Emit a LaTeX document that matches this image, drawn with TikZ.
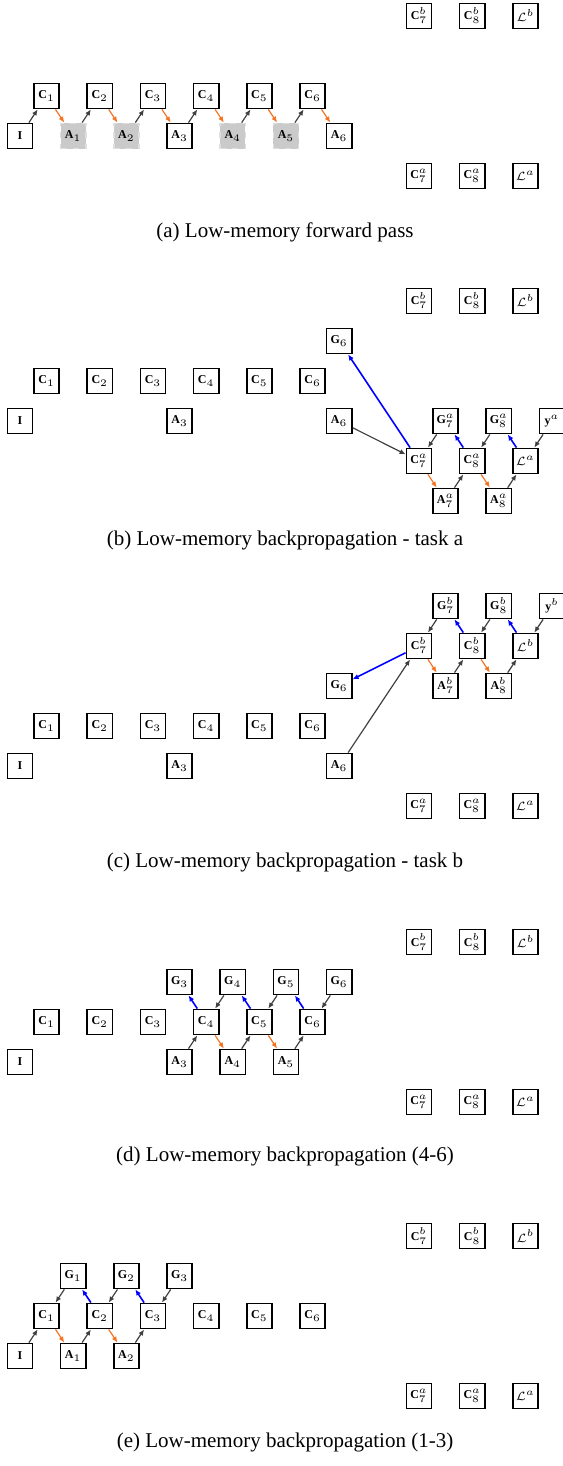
\documentclass[tikz,border=0pt]{standalone}
\usepackage{fontspec}
\setmainfont{Liberation Serif}
\usepackage{amssymb}
\usetikzlibrary{arrows.meta}
\tikzset{>={Latex[width=2.6pt,length=3pt]}}
\definecolor{fwgray}{HTML}{404040}
\definecolor{actorange}{HTML}{F47424}
\definecolor{gradblue}{HTML}{0000FF}
\definecolor{ghostgray}{HTML}{CACACA}
\tikzset{
  blk/.style={draw, line width=0.8pt, fill=white, minimum size=12.6pt,
    inner sep=0pt, font=\fontsize{6}{7}\selectfont},
  ghost/.style={blk, draw=ghostgray!60, dashed, fill=ghostgray},
  fw/.style={->, line width=0.6pt, draw=fwgray},
  act/.style={->, line width=0.6pt, draw=actorange},
  grad/.style={->, line width=0.8pt, draw=gradblue},
  subcap/.style={font=\fontsize{10.5}{12}\selectfont}
}
% nodes shared by every panel
\newcommand\backbone[1]{%
  \node[blk] (#1-I) at (0*\X,-1*\Y) {$\mathbf{I}$};
  \foreach \k in {1,...,6}
    \node[blk] (#1-C\k) at ({(2*\k-1)*\X},0*\Y) {$\mathbf{C}_{\k}$};
  \node[blk] (#1-C7b) at (15*\X,2*\Y) {$\mathbf{C}^b_7$};
  \node[blk] (#1-C8b) at (17*\X,2*\Y) {$\mathbf{C}^b_8$};
  \node[blk] (#1-Lb) at (19*\X,2*\Y) {$\mathcal{L}^b$};
  \node[blk] (#1-C7a) at (15*\X,-2*\Y) {$\mathbf{C}^a_7$};
  \node[blk] (#1-C8a) at (17*\X,-2*\Y) {$\mathbf{C}^a_8$};
  \node[blk] (#1-La) at (19*\X,-2*\Y) {$\mathcal{L}^a$};
}
\begin{document}
\begin{tikzpicture}

  \newcommand\X{13.3pt}
  \newcommand\Y{20pt}

  \useasboundingbox (0,0) rectangle (281pt,-733pt);

  %% (a) forward pass
  \begin{scope}[shift={(10pt,-48pt)}]
    \backbone{a}
    \foreach \k in {1,2,4,5}
      \node[ghost] (a-A\k) at ({2*\k*\X},-1*\Y) {$\mathbf{A}_{\k}$};
    \foreach \k in {3,6}
      \node[blk] (a-A\k) at ({2*\k*\X},-1*\Y) {$\mathbf{A}_{\k}$};
    \draw[fw] (a-I) -- (a-C1);
    \foreach \k [count=\j from 2] in {1,...,5}
      \draw[fw] (a-A\k) -- (a-C\j);
    \foreach \k in {1,...,6}
      \draw[act] (a-C\k) -- (a-A\k);
  \end{scope}
  \node[subcap] (a-cap) at (142.5pt,-116pt) {(a) Low-memory forward pass};

  %% (b) task a
  \begin{scope}[shift={(10pt,-190.5pt)}]
    \backbone{b}
    \node[blk] (b-A3) at (6*\X,-1*\Y) {$\mathbf{A}_3$};
    \node[blk] (b-A6) at (12*\X,-1*\Y) {$\mathbf{A}_6$};
    \node[blk] (b-G6) at (12*\X,1*\Y) {$\mathbf{G}_6$};
    \node[blk] (b-G7a) at (16*\X,-1*\Y) {$\mathbf{G}^a_7$};
    \node[blk] (b-G8a) at (18*\X,-1*\Y) {$\mathbf{G}^a_8$};
    \node[blk] (b-ya) at (20*\X,-1*\Y) {$\mathbf{y}^a$};
    \node[blk] (b-A7a) at (16*\X,-3*\Y) {$\mathbf{A}^a_7$};
    \node[blk] (b-A8a) at (18*\X,-3*\Y) {$\mathbf{A}^a_8$};
    \draw[fw] (b-A6) -- (b-C7a);
    \draw[grad] (b-C7a) -- (b-G6);
    \draw[fw] (b-G7a) -- (b-C7a);
    \draw[grad] (b-C8a) -- (b-G7a);
    \draw[fw] (b-G8a) -- (b-C8a);
    \draw[grad] (b-La) -- (b-G8a);
    \draw[fw] (b-ya) -- (b-La);
    \draw[act] (b-C7a) -- (b-A7a);
    \draw[fw] (b-A7a) -- (b-C8a);
    \draw[act] (b-C8a) -- (b-A8a);
    \draw[fw] (b-A8a) -- (b-La);
  \end{scope}
  \node[subcap] (b-cap) at (142.5pt,-270pt) {(b) Low-memory backpropagation - task a};

  %% (c) task b
  \begin{scope}[shift={(10pt,-363pt)}]
    \backbone{c}
    \node[blk] (c-A3) at (6*\X,-1*\Y) {$\mathbf{A}_3$};
    \node[blk] (c-A6) at (12*\X,-1*\Y) {$\mathbf{A}_6$};
    \node[blk] (c-G6) at (12*\X,1*\Y) {$\mathbf{G}_6$};
    \node[blk] (c-G7b) at (16*\X,3*\Y) {$\mathbf{G}^b_7$};
    \node[blk] (c-G8b) at (18*\X,3*\Y) {$\mathbf{G}^b_8$};
    \node[blk] (c-yb) at (20*\X,3*\Y) {$\mathbf{y}^b$};
    \node[blk] (c-A7b) at (16*\X,1*\Y) {$\mathbf{A}^b_7$};
    \node[blk] (c-A8b) at (18*\X,1*\Y) {$\mathbf{A}^b_8$};
    \draw[fw] (c-A6) -- (c-C7b);
    \draw[grad] (c-C7b) -- (c-G6);
    \draw[fw] (c-G7b) -- (c-C7b);
    \draw[grad] (c-C8b) -- (c-G7b);
    \draw[fw] (c-G8b) -- (c-C8b);
    \draw[grad] (c-Lb) -- (c-G8b);
    \draw[fw] (c-yb) -- (c-Lb);
    \draw[act] (c-C7b) -- (c-A7b);
    \draw[fw] (c-A7b) -- (c-C8b);
    \draw[act] (c-C8b) -- (c-A8b);
    \draw[fw] (c-A8b) -- (c-Lb);
  \end{scope}
  \node[subcap] (c-cap) at (142.5pt,-431pt) {(c) Low-memory backpropagation - task b};

  %% (d) layers 4-6
  \begin{scope}[shift={(10pt,-511pt)}]
    \backbone{d}
    \foreach \k in {3,...,6}
      \node[blk] (d-G\k) at ({2*\k*\X},1*\Y) {$\mathbf{G}_{\k}$};
    \foreach \k in {3,4,5}
      \node[blk] (d-A\k) at ({2*\k*\X},-1*\Y) {$\mathbf{A}_{\k}$};
    \foreach \k [count=\j from 3] in {4,5,6} {
      \draw[fw] (d-G\k) -- (d-C\k);
      \draw[grad] (d-C\k) -- (d-G\j);
      \draw[fw] (d-A\j) -- (d-C\k);
    }
    \draw[act] (d-C4) -- (d-A4);
    \draw[act] (d-C5) -- (d-A5);
  \end{scope}
  \node[subcap] (d-cap) at (142.5pt,-578pt) {(d) Low-memory backpropagation (4-6)};

  %% (e) layers 1-3
  \begin{scope}[shift={(10pt,-658pt)}]
    \backbone{e}
    \foreach \k in {1,2,3}
      \node[blk] (e-G\k) at ({2*\k*\X},1*\Y) {$\mathbf{G}_{\k}$};
    \foreach \k in {1,2}
      \node[blk] (e-A\k) at ({2*\k*\X},-1*\Y) {$\mathbf{A}_{\k}$};
    \foreach \k in {1,2,3}
      \draw[fw] (e-G\k) -- (e-C\k);
    \draw[grad] (e-C2) -- (e-G1);
    \draw[grad] (e-C3) -- (e-G2);
    \draw[fw] (e-I) -- (e-C1);
    \draw[act] (e-C1) -- (e-A1);
    \draw[fw] (e-A1) -- (e-C2);
    \draw[act] (e-C2) -- (e-A2);
    \draw[fw] (e-A2) -- (e-C3);
  \end{scope}
  \node[subcap] (e-cap) at (142.5pt,-721pt) {(e) Low-memory backpropagation (1-3)};

\end{tikzpicture}
\end{document}
